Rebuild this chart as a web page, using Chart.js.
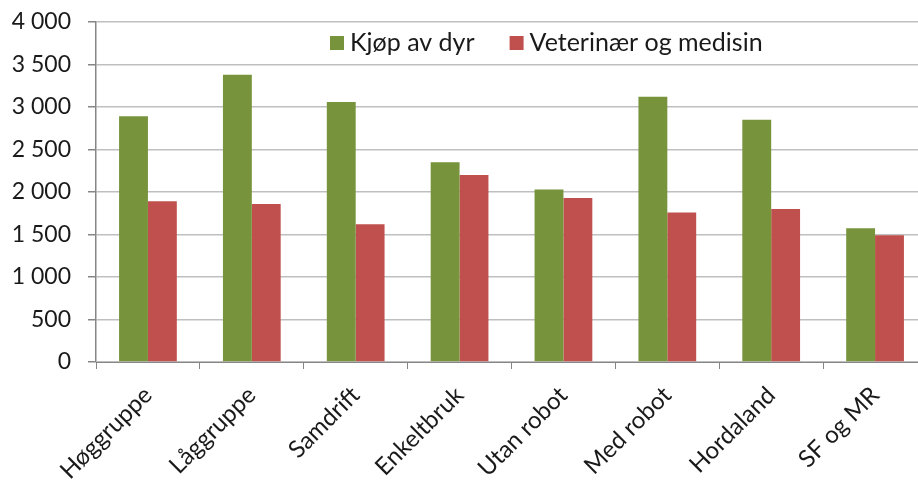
<!DOCTYPE html>
<html>
<head>
<meta charset="utf-8">
<script src="https://cdn.jsdelivr.net/npm/chart.js@4/dist/chart.umd.min.js"></script>
<style>
  html, body { margin: 0; padding: 0; background: #fff; overflow: hidden; }
  #wrap { width: 940px; height: 481px; }
</style>
</head>
<body>
<div id="wrap"><canvas id="chart" width="940" height="481"></canvas></div>
<script>
// Data
const categories = ['Høggruppe', 'Låggruppe', 'Samdrift', 'Enkeltbruk', 'Utan robot', 'Med robot', 'Hordaland', 'SF og MR'];
const kjopAvDyr = [2890, 3380, 3060, 2350, 2030, 3120, 2850, 1575];
const veterinaer = [1890, 1860, 1620, 2200, 1930, 1760, 1800, 1490];
const yTicks = [0, 500, 1000, 1500, 2000, 2500, 3000, 3500, 4000];

const FONT = 'Lato';
const textColor = '#1a1a1a';

// legend drawn inside the plot, like the Excel original
const insideLegend = {
    id: 'insideLegend',
    afterDraw(chart) {
        const c = chart.ctx;
        c.save();
        c.font = '25px ' + FONT;
        c.textBaseline = 'middle';
        let x = 330;
        const y = 43;
        chart.data.datasets.forEach(ds => {
            c.fillStyle = ds.backgroundColor;
            c.fillRect(x, y - 7, 14, 14);
            x += 20;
            c.fillStyle = textColor;
            c.fillText(ds.label, x, y);
            x += c.measureText(ds.label).width + 35;
        });
        c.restore();
    }
};

const ctx = document.getElementById('chart').getContext('2d');
let chart = new Chart(ctx, {
    type: 'bar',
    data: {
        labels: categories,
        datasets: [{
            label: 'Kjøp av dyr',
            data: kjopAvDyr,
            backgroundColor: '#77933C',
        },
        {
            label: 'Veterinær og medisin',
            data: veterinaer,
            backgroundColor: '#C0504D',
        }]
    },
    options: {
        responsive: false,
        animation: false,
        layout: { padding: { top: 22, right: 13, left: 0, bottom: 0 } },
        categoryPercentage: 0.556,
        barPercentage: 1,
        plugins: {
            legend: { display: false },
            tooltip: { enabled: false }
        },
        scales: {
            x: {
                grid: {
                    offset: true,
                    drawOnChartArea: false,
                    color: '#868686',
                    tickLength: 7,
                },
                border: { color: '#868686' },
                ticks: {
                    color: textColor,
                    font: { family: FONT, size: 24 },
                    minRotation: 45,
                    maxRotation: 45,
                    padding: 12,
                },
                afterFit(scale) { scale.height = 119; }
            },
            y: {
                min: 0,
                max: 4000,
                afterBuildTicks(scale) { scale.ticks = yTicks.map(v => ({ value: v })); },
                grid: {
                    color: '#BFBFBF',
                    lineWidth: 1.5,
                    tickLength: 8,
                    tickColor: '#868686',
                },
                border: { color: '#868686', width: 1.5 },
                ticks: {
                    color: textColor,
                    font: { family: FONT, size: 23 },
                    padding: 17,
                    callback: v => String(v).replace(/\B(?=(\d{3})+(?!\d))/g, ' '),
                },
                afterFit(scale) {
                    scale.width = 96;
                    scale.paddingTop = 0;
                    scale.paddingBottom = 0;
                }
            }
        }
    },
    plugins: [insideLegend]
});
</script>
</body>
</html>
